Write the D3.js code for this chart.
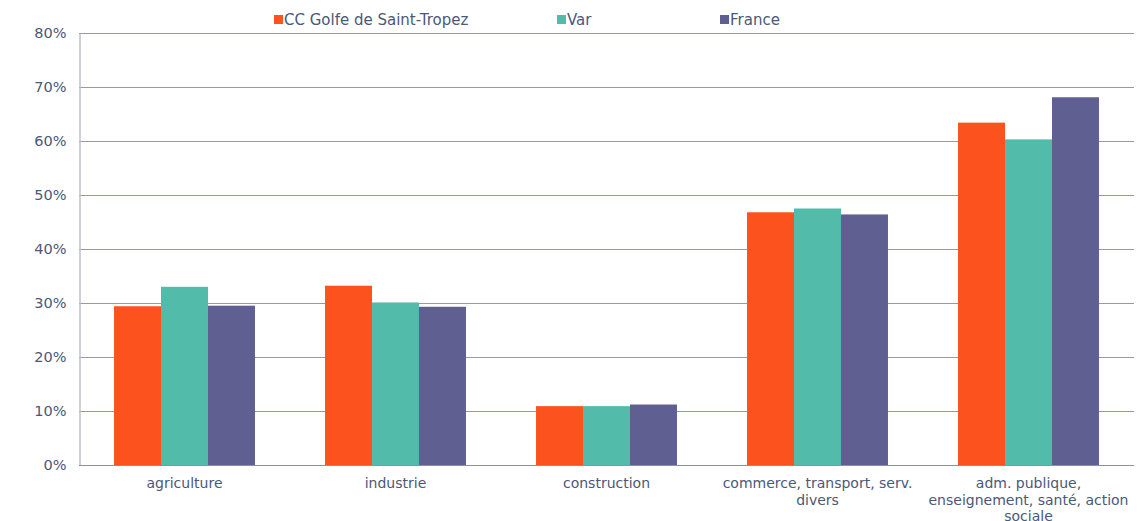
<!DOCTYPE html>
<html><head><meta charset="utf-8">
<script src="https://cdn.jsdelivr.net/npm/d3@7"></script>
<style>body{margin:0;background:#fff}svg{display:block}</style>
</head><body><svg id="c" width="1148" height="521"></svg>
<script>
const categories = [["agriculture"],["industrie"],["construction"],["commerce, transport, serv.","divers"],["adm. publique,","enseignement, santé, action","sociale"]];
const seriesNames = ["CC Golfe de Saint-Tropez","Var","France"];
const ccValues = [29.4, 33.2, 10.9, 46.8, 63.4];
const varValues = [33.0, 30.1, 10.9, 47.5, 60.3];
const franceValues = [29.5, 29.3, 11.2, 46.4, 68.1];
const yTicks = [0,10,20,30,40,50,60,70,80];
const colors = ["#fc531e","#52bba9","#5f5f92"];
const series = [ccValues, varValues, franceValues];

const svg = d3.select("#c");
const L=79, R=1134, T=33, B=465;
const font = "'DejaVu Sans', Verdana, sans-serif";
const textColor = "#4b5878";
const x0 = d3.scaleBand().domain(d3.range(categories.length)).range([L,R]).paddingInner(0.332).paddingOuter(0.166);
const x1 = d3.scaleBand().domain(d3.range(series.length)).range([0,x0.bandwidth()]);
const y = d3.scaleLinear().domain([0,80]).range([B,T]);

// gridlines
svg.append("g").selectAll("line").data(yTicks.filter(d=>d>0)).join("line")
  .attr("x1",L).attr("x2",R).attr("y1",d=>y(d)+0.5).attr("y2",d=>y(d)+0.5)
  .attr("stroke","#9499b0").attr("stroke-width",1);

// bars
const g = svg.append("g");
series.forEach((vals,si)=>{
  g.selectAll(null).data(vals).join("rect")
   .attr("x",(d,i)=>x0(i)+x1(si)).attr("width",x1.bandwidth())
   .attr("y",d=>y(d)).attr("height",d=>B-y(d)).attr("fill",colors[si]);
});

// y axis
const ya = d3.axisLeft(y).tickValues(yTicks).tickFormat(d=>d+"%").tickSize(0).tickPadding(13);
const yg = svg.append("g").attr("transform",`translate(${L+0.5},0)`).call(ya);
yg.select(".domain").attr("stroke","#bcc0c9").attr("stroke-width",1.5);
yg.selectAll("text").attr("font-family",font).attr("font-size",14.5).attr("fill",textColor);

// x baseline
svg.append("line").attr("x1",L).attr("x2",R).attr("y1",B+0.5).attr("y2",B+0.5).attr("stroke","#8a90aa");

// x labels
const xl = svg.append("g");
categories.forEach((lines,i)=>{
  const t = xl.append("text").attr("x",x0(i)+x0.bandwidth()/2).attr("y",488)
    .attr("text-anchor","middle").attr("font-family",font).attr("font-size",14).attr("fill",textColor);
  lines.forEach((s,k)=>t.append("tspan").attr("x",x0(i)+x0.bandwidth()/2).attr("dy",k?16.5:0).text(s));
});

// legend
const legX = [274, 557, 720];
const lg = svg.append("g");
seriesNames.forEach((n,i)=>{
  lg.append("rect").attr("x",legX[i]).attr("y",15).attr("width",9).attr("height",9).attr("fill",colors[i]);
  lg.append("text").attr("x",legX[i]+10).attr("y",25).attr("font-family",font).attr("font-size",15)
    .attr("fill",textColor).text(n);
});
</script></body></html>
